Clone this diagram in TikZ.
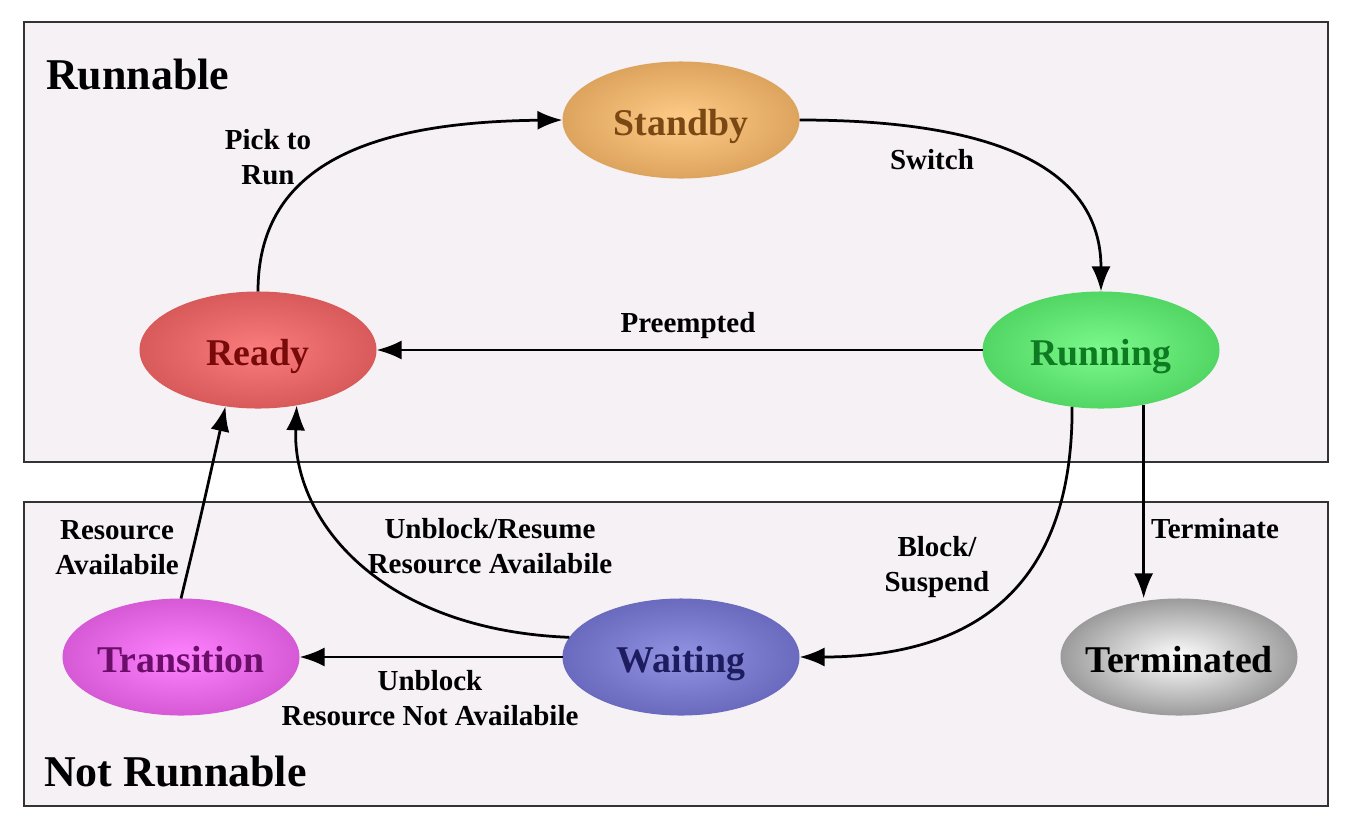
\documentclass[tikz,border=0pt]{standalone}
\usepackage{fontspec}
\setmainfont{Liberation Serif}
\usetikzlibrary{shapes.geometric,arrows.meta}

\definecolor{panel}{HTML}{F5F1F5}
\definecolor{readyin}{HTML}{FA7C7C}
\definecolor{readyout}{HTML}{D95A5A}
\definecolor{readytx}{HTML}{780A0A}
\definecolor{standbyin}{HTML}{FFCC88}
\definecolor{standbyout}{HTML}{DDA45E}
\definecolor{standbytx}{HTML}{7A4812}
\definecolor{runningin}{HTML}{7CFA8C}
\definecolor{runningout}{HTML}{52D664}
\definecolor{runningtx}{HTML}{0E7A22}
\definecolor{transin}{HTML}{FF82FF}
\definecolor{transout}{HTML}{D65AD6}
\definecolor{transtx}{HTML}{6A0E6A}
\definecolor{waitin}{HTML}{9494E4}
\definecolor{waitout}{HTML}{6A6ABE}
\definecolor{waittx}{HTML}{1C1C5E}
\definecolor{termin}{HTML}{FFFFFF}
\definecolor{termout}{HTML}{9C9C9C}

\tikzset{
  statenode/.style n args={3}{ellipse, minimum width=4.72cm, minimum height=2.32cm,
    inner sep=0pt, inner xsep=-0.3cm, text height=0.6cm, text depth=0cm,
    draw=#2, line width=0.6pt, shading=radial, inner color=#1,
    outer color=#2, text=#3, font=\fontsize{21.5}{24}\selectfont\bfseries},
  trans/.style={-{Latex[length=0.5cm,width=0.38cm]}, line width=0.055cm},
  lbl/.style={font=\fontsize{16.5}{20}\selectfont\bfseries, align=center, inner sep=1pt},
  panelbox/.style={draw=black!80, line width=0.6pt, fill=panel}
}

\begin{document}
\begin{tikzpicture}[x=0.02cm, y=-0.02cm]
\useasboundingbox (0,0) rectangle (1350,832);
% the two regions
\draw[panelbox] (24,22) rectangle (1328,462);
\draw[panelbox] (24,502) rectangle (1328,806);
\node[anchor=west, font=\fontsize{25}{28}\selectfont\bfseries] (runnable) at (40,75) {Runnable};
\node[anchor=west, font=\fontsize{25}{28}\selectfont\bfseries] (notrunnable) at (38,772) {Not Runnable};

% states
\node[statenode={standbyin}{standbyout}{standbytx}] (standby) at (681,120) {Standby};
\node[statenode={readyin}{readyout}{readytx}] (ready) at (258,350) {Ready};
\node[statenode={runningin}{runningout}{runningtx}] (running) at (1101,350) {Running};
\node[statenode={transin}{transout}{transtx}] (transition) at (181,657) {Transition};
\node[statenode={waitin}{waitout}{waittx}] (waiting) at (681,657) {Waiting};
\node[statenode={termin}{termout}{black}] (terminated) at (1179,657) {Terminated};

% transitions
\draw[trans] (ready.north) .. controls (258,170) and (360,122) .. (standby.west)
  node[lbl] at (268,157) {Pick to\\Run};
\draw[trans] (standby.east) .. controls (1000,120) and (1101,170) .. (running.north)
  node[lbl] at (932,160) {Switch};
\draw[trans] (running.west) -- (ready.east)
  node[lbl, above] at (688,342) {Preempted};
\draw[trans] (running.-117) .. controls (1073,600) and (960,657) .. (waiting.east)
  node[lbl] at (937,567) {Block/\\Suspend};
\draw[trans] (running.-52) -- (running.-52 |- terminated.north)
  node[lbl] at (1215,529) {Terminate};
\draw[trans] (waiting.170) .. controls (380,630) and (292,520) .. (ready.-55)
  node[lbl] at (490,546) {Unblock/Resume\\Resource Availabile};
\draw[trans] (waiting.west) -- (transition.east)
  node[lbl] at (430,698) {Unblock\\Resource Not Availabile};
\draw[trans] (transition.north) .. controls (200,520) .. (ready.-120)
  node[lbl] at (117,548) {Resource\\Availabile};
\end{tikzpicture}
\end{document}
